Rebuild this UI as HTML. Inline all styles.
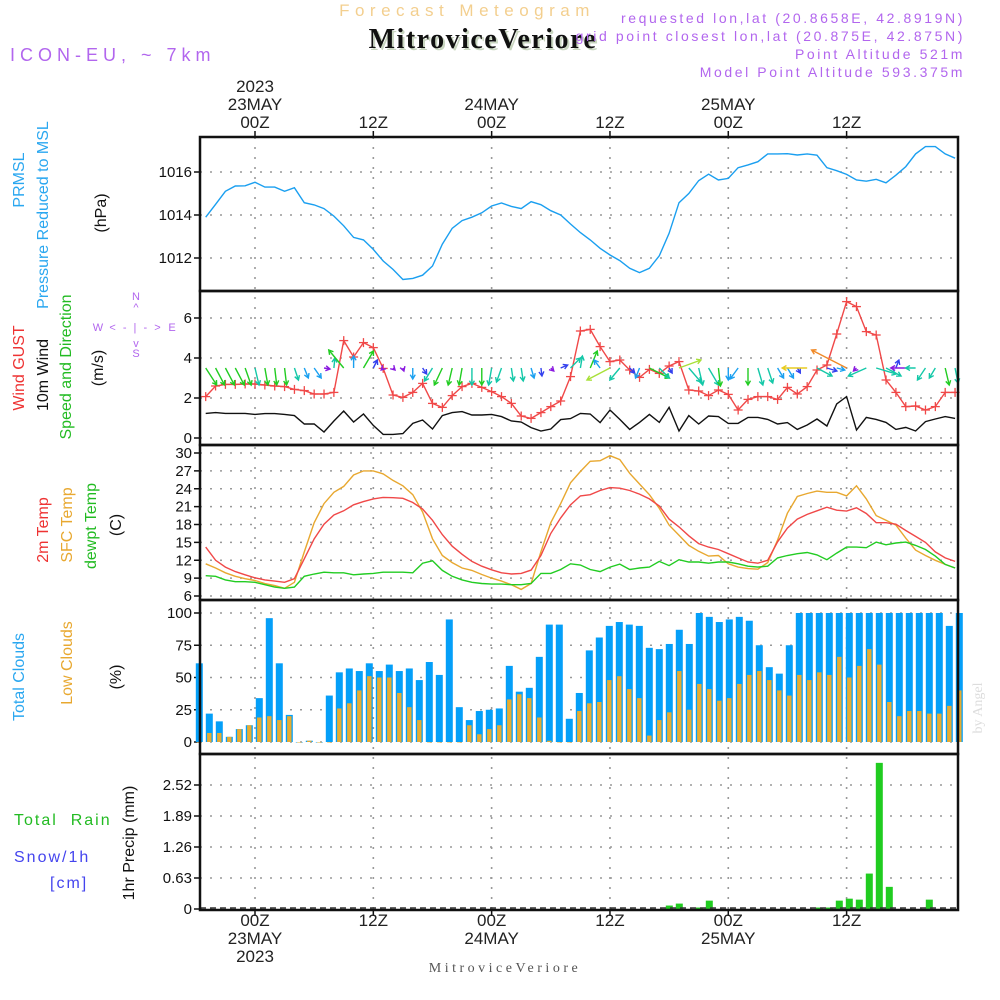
<!DOCTYPE html>
<html><head><meta charset="utf-8"><style>
html,body{margin:0;padding:0;background:#fff;}
svg{display:block;font-family:"Liberation Sans Narrow","Liberation Sans",sans-serif;}
</style></head><body>
<svg id="chart" width="1000" height="1000" viewBox="0 0 1000 1000" xmlns="http://www.w3.org/2000/svg">
<rect x="0" y="0" width="1000" height="1000" fill="#fff"/>
<text x="467" y="16" font-size="17" fill="#f3cf8f" text-anchor="middle" letter-spacing="5.5" font-family="Liberation Sans">Forecast Meteogram</text>
<text x="485" y="50" font-size="28" font-weight="bold" fill="#c9d6c0" text-anchor="middle" letter-spacing="1.5" font-family="Liberation Serif">MitroviceVeriore</text>
<text x="483" y="48" font-size="28" font-weight="bold" fill="#111" text-anchor="middle" letter-spacing="1.5" font-family="Liberation Serif">MitroviceVeriore</text>
<g fill="#b266ee" font-size="14" text-anchor="end" font-family="Liberation Sans" letter-spacing="2.6">
<text x="965" y="23">requested lon,lat (20.8658E, 42.8919N)</text>
<text x="965" y="41">grid point closest lon,lat (20.875E, 42.875N)</text>
<text x="965" y="59">Point Altitude 521m</text>
<text x="965" y="77">Model Point Altitude 593.375m</text>
</g>
<text x="10" y="61" font-size="18" fill="#b266ee" font-family="Liberation Sans" letter-spacing="5">ICON-EU, ~ 7km</text>

<g font-size="16" text-anchor="middle">
<text transform="translate(24,180) rotate(-90)" fill="#2aa7f0">PRMSL</text>
<text transform="translate(48,215) rotate(-90)" fill="#2aa7f0">Pressure Reduced to MSL</text>
<text transform="translate(106,213) rotate(-90)" fill="#111">(hPa)</text>
<text transform="translate(24,368) rotate(-90)" fill="#ee3333">Wind GUST</text>
<text transform="translate(48,375) rotate(-90)" fill="#111">10m Wind</text>
<text transform="translate(71,367) rotate(-90)" fill="#22bb22">Speed and Direction</text>
<text transform="translate(103,368) rotate(-90)" fill="#111">(m/s)</text>
<text transform="translate(48,530) rotate(-90)" fill="#ee3333">2m Temp</text>
<text transform="translate(72,525) rotate(-90)" fill="#e8a830">SFC Temp</text>
<text transform="translate(96,526) rotate(-90)" fill="#22bb22">dewpt Temp</text>
<text transform="translate(121,525) rotate(-90)" fill="#111">(C)</text>
<text transform="translate(24,677) rotate(-90)" fill="#2aa7f0">Total Clouds</text>
<text transform="translate(72,663) rotate(-90)" fill="#e8a830">Low Clouds</text>
<text transform="translate(121,677) rotate(-90)" fill="#111">(%)</text>
<text transform="translate(134,843) rotate(-90)" fill="#111">1hr Precip (mm)</text>
</g>
<g font-size="16" font-family="Liberation Sans" letter-spacing="2">
<text x="14" y="825" fill="#22bb22">Total&#160;&#160;Rain</text>
<text x="14" y="862" fill="#4444ee">Snow/1h</text>
<text x="50" y="888" fill="#4444ee">[cm]</text>
</g>
<g fill="#b266ee" font-size="11" text-anchor="middle" font-family="Liberation Sans">
<text x="136" y="300">N</text><text x="136" y="311">^</text>
<text x="98" y="331">W</text><text x="136" y="331" letter-spacing="2">&lt; - | - &gt;</text><text x="172" y="331">E</text>
<text x="136" y="347">v</text><text x="136" y="357">S</text>
</g>
<text transform="translate(982,708) rotate(-90)" font-size="14" fill="#ddd" text-anchor="middle" font-family="Liberation Serif">by Angel</text>
<text x="505" y="972" font-size="14" fill="#555" text-anchor="middle" font-family="Liberation Serif" letter-spacing="3.5">MitroviceVeriore</text>
<g id="plot"></g>
</svg>
<script>
const hours = []; for (let h = -5; h <= 71; h++) hours.push(h);
const pressure = [1013.9,1014.5,1015.1,1015.35,1015.36,1015.52,1015.3,1015.3,1015.1,1015.27,1014.57,1014.47,1014.3,1013.95,1013.5,1012.96,1012.84,1012.4,1011.86,1011.47,1011.0,1011.05,1011.2,1011.63,1012.64,1013.38,1013.74,1013.9,1014.1,1014.42,1014.56,1014.4,1014.3,1014.62,1014.48,1014.2,1014.0,1013.58,1013.18,1012.84,1012.45,1012.14,1011.88,1011.52,1011.32,1011.52,1012.1,1013.15,1014.57,1015.0,1015.6,1015.9,1015.63,1015.7,1016.2,1016.33,1016.48,1016.84,1016.84,1016.85,1016.79,1016.84,1016.78,1016.2,1016.06,1015.89,1015.63,1015.57,1015.66,1015.5,1015.85,1016.25,1016.84,1017.18,1017.18,1016.84,1016.64];
const gust = [2.07,2.6,2.68,2.68,2.7,2.7,2.65,2.6,2.57,2.43,2.37,2.2,2.2,2.28,4.87,4.05,4.77,4.52,3.48,2.15,2.03,2.28,2.73,1.73,1.53,2.12,2.57,2.73,2.53,2.32,2.07,1.73,1.1,0.98,1.27,1.57,1.85,3.07,5.35,5.43,4.57,3.82,3.9,3.4,3.03,3.43,3.23,3.6,3.82,2.4,2.35,2.12,2.4,2.18,1.4,1.93,2.07,2.07,1.93,2.53,2.2,2.57,3.4,3.65,5.2,6.82,6.57,5.32,5.15,2.9,2.28,1.57,1.6,1.4,1.57,2.28,2.28];
const wind10 = [1.23,1.27,1.23,1.23,1.23,1.18,1.22,1.22,1.18,1.12,0.7,0.7,0.3,0.85,1.35,0.8,1.2,0.63,0.18,0.18,0.22,0.73,0.9,0.45,1.12,1.27,1.32,1.15,1.15,1.18,1.07,0.85,0.8,0.52,0.35,0.45,0.92,0.97,1.23,1.2,0.77,1.4,0.93,0.43,0.78,1.18,0.78,1.53,0.35,1.12,0.7,1.1,1.07,0.73,0.73,1.03,1.03,0.93,0.7,0.77,0.43,0.65,0.95,0.6,1.7,2.07,0.4,1.03,0.93,0.78,0.43,0.53,0.35,0.82,0.95,1.07,0.98];
const windU = [11,9,9,9,6,4,3,2,2,4,4,7,6,1,-15,0,10,4,-2,2,1,0,4,-8,-8,-4,-3,0,0,-3,-5,2,2,3,1,3,7,10,2,7,-6,-23,-10,5,-4,20,10,3,22,12,4,10,2,0,-8,0,5,5,6,6,3,-25,15,10,8,-35,-3,-18,20,15,3,-15,-10,-8,-6,4,3];
const windV = [17,17,17,17,17,17,17,17,17,12,10,10,1,-10,-18,-12,-17,-8,2,2,3,11,6,13,17,17,17,17,17,17,14,13,13,10,8,3,-3,-10,-12,-17,-8,12,12,5,10,10,10,5,-8,14,17,17,18,12,11,17,17,15,10,10,5,0,8,3,2,-18,3,8,6,8,-8,0,0,12,10,17,15];
const windColorCode = "GGGGGTGGGTBBPTGBGDPPPBDTGGGTGTTTTBDPDTTGBLTDBGTDLTTTGBBGTTBBDYTDBOPTTTDPTTTGT";
const t2m = [14.2,12.0,10.85,10.1,9.55,9.05,8.7,8.5,8.3,8.9,12.25,15.6,18.05,19.6,20.3,21.3,21.85,22.3,22.55,22.5,22.4,21.7,20.6,18.7,16.3,14.35,13.0,11.8,11.0,10.4,9.9,9.7,9.8,10.35,12.8,16.5,19.1,21.3,22.8,23.0,23.7,24.2,24.1,23.7,23.1,22.3,21.1,18.9,17.6,16.1,14.8,14.2,13.8,13.1,12.4,11.7,11.5,12.0,15.1,17.4,18.9,19.7,20.3,20.9,20.4,20.25,20.8,19.85,18.3,18.3,18.05,17.0,16.0,15.0,13.4,12.4,11.8];
const tsfc = [11.4,10.7,9.9,9.3,8.9,8.6,8.1,7.75,7.3,8.3,13.4,18.3,21.5,23.4,24.4,26.3,27.0,27.0,26.5,25.4,24.5,23.0,20.1,15.6,12.8,11.6,10.7,10.3,9.6,9.0,8.5,7.9,7.1,8.1,13.4,18.3,21.5,25.0,26.9,28.6,28.7,29.55,28.9,26.6,24.8,23.0,20.7,17.9,16.2,14.5,13.5,12.7,12.8,11.4,10.85,10.6,10.5,11.6,15.4,19.9,22.7,23.2,23.6,23.4,23.4,22.8,24.5,22.3,19.5,18.7,17.9,15.7,13.7,12.8,12.0,11.3,10.7];
const tdew = [9.4,9.3,8.7,8.4,8.4,8.3,7.9,7.5,7.3,7.5,9.3,9.7,10.0,9.9,9.9,9.55,9.7,9.8,10.0,10.0,10.0,9.9,11.5,11.9,10.3,9.3,8.7,8.3,8.1,8.0,8.0,7.9,7.9,8.1,9.8,9.8,10.45,11.4,11.2,10.45,10.1,10.85,11.35,10.45,10.7,10.85,11.8,11.1,12.1,11.7,11.7,11.5,11.7,11.7,11.4,11.0,10.85,11.0,12.4,12.8,13.1,13.3,12.9,12.1,13.2,14.2,14.2,14.1,15.05,14.6,14.9,15.05,14.5,13.8,12.7,11.3,10.7];
const totalClouds = [61,22,16,4,10,13,34,96,61,21,0,1,0,36,54,57,55,61,55,60,55,57,48,62,52,95,27,17,24,25,26,59,39,42,66,91,91,18,38,71,81,90,93,91,90,73,72,76,87,76,100,97,93,95,97,94,75,58,53,75,100,100,100,100,100,100,100,100,100,100,100,100,100,100,100,90,100];
const lowClouds = [0,7,7,4,10,13,19,20,17,20,0,1,0,0,26,30,40,51,50,50,38,27,17,0,0,0,0,13,6,10,13,33,37,34,19,1,0,0,24,30,31,48,51,41,34,5,17,23,55,25,45,41,32,34,45,52,55,48,40,36,52,48,54,52,66,50,59,72,60,31,20,24,24,22,22,28,40];
const precip = [0,0,0,0,0,0,0,0,0,0,0,0,0,0,0,0,0,0,0,0,0,0,0,0,0,0,0,0,0,0,0,0,0,0,0,0,0,0,0,0,0,0,0,0,0,0,0,0.07,0.11,0,0.03,0.17,0,0,0,0,0,0,0,0,0,0,0.03,0.03,0.17,0.21,0.19,0.72,2.97,0.45,0,0,0,0.19,0,0,0];
const pressTicks = [1012,1014,1016];
const windTicks = [0,2,4,6];
const tempTicks = [6,9,12,15,18,21,24,27,30];
const cloudTicks = [0,25,50,75,100];
const precipTicks = [0,0.63,1.26,1.89,2.52];
const timeTicks = [0,12,24,36,48,60];
const timeTopLabels = [["2023","23MAY","00Z"],["","","12Z"],["","24MAY","00Z"],["","","12Z"],["","25MAY","00Z"],["","","12Z"]];
const timeBottomLabels = [["00Z","23MAY","2023"],["12Z","",""],["00Z","24MAY",""],["12Z","",""],["00Z","25MAY",""],["12Z","",""]];

const NS = "http://www.w3.org/2000/svg";
const plot = document.getElementById('plot');
const L = 200, R = 958;
const xH = h => 255 + 9.86 * h;
const xBar = k => 199.3 + 10 * k;
const lin = (v0, y0, v1, y1) => v => y0 + (v - v0) * (y1 - y0) / (v1 - v0);
const yP = lin(1016, 172, 1012, 258);
const yW = lin(0, 438, 6, 318);
const yT = lin(6, 596, 30, 453);
const yC = lin(0, 742, 100, 613);
const yR = lin(0, 909, 2.52, 785);
const panels = [[137,291],[291,445],[445,600],[600,754],[754,910]];

function mk(tag, attrs, parent) {
  const e = document.createElementNS(NS, tag);
  for (const k in attrs) e.setAttribute(k, attrs[k]);
  (parent || plot).appendChild(e);
  return e;
}
const grid = mk('g', {stroke:'#999','stroke-width':1.6,'stroke-dasharray':'2,8',fill:'none'});


function hgrid(ticks, sc) { ticks.forEach(t => { const y = sc(t); mk('line',{x1:L,x2:R,y1:y,y2:y},grid); }); }
hgrid(pressTicks, yP); hgrid(windTicks, yW); hgrid(tempTicks, yT); hgrid(cloudTicks, yC); hgrid(precipTicks, yR);
timeTicks.forEach(h => { mk('line',{x1:xH(h),x2:xH(h),y1:137,y2:910},grid); });

const tl = mk('g', {'font-size':15,'text-anchor':'end',fill:'#111','font-family':'Liberation Sans'});


const tm = mk('g', {stroke:'#111','stroke-width':1.5});


function ylabels(ticks, sc, fmt) {
  ticks.forEach(t => { const y = sc(t);
    const e = mk('text',{x:192,y:y+5},tl); e.textContent = fmt(t);
    mk('line',{x1:194,x2:200,y1:y,y2:y},tm); });
}
ylabels(pressTicks, yP, String); ylabels(windTicks, yW, String); ylabels(tempTicks, yT, String);
ylabels(cloudTicks, yC, String); ylabels(precipTicks, yR, t => t===0?'0':t.toFixed(2));
timeTicks.forEach(h => { const x = xH(h);
  mk('line',{x1:x,x2:x,y1:131,y2:137},tm); mk('line',{x1:x,x2:x,y1:910,y2:916},tm); });
const xl = mk('g', {'font-size':17,'text-anchor':'middle',fill:'#222'});


timeTicks.forEach((h,i) => { const x = xH(h);
  timeTopLabels[i].forEach((s,j) => { if (s) { const e = mk('text',{x:x,y:92+j*18},xl); e.textContent = s; } });
  timeBottomLabels[i].forEach((s,j) => { if (s) { const e = mk('text',{x:x,y:926+j*18},xl); e.textContent = s; } });
});

function line(vals, sc, color, name, w) {
  const d = vals.map((v,i) => (i?'L':'M') + xH(hours[i]).toFixed(1) + ',' + sc(v).toFixed(1)).join('');
  const p = mk('path', {d:d, fill:'none', stroke:color, 'stroke-width':w||1.4});
  
  
  return p;
}
line(pressure, yP, '#1a9ff0', 'pressure-line');
line(wind10, yW, '#111', 'wind-10m-line');
line(gust, yW, '#f04848', 'wind-gust-line');
const gm = mk('g', {stroke:'#f04848','stroke-width':1.3});


gust.forEach((v,i) => { const x = xH(hours[i]), y = yW(v);
  mk('line',{x1:x-4.5,x2:x+4.5,y1:y,y2:y},gm); mk('line',{x1:x,x2:x,y1:y-4.5,y2:y+4.5},gm); });

const colorMap = {G:'#22cc22',T:'#14c8a8',B:'#1aa0f0',D:'#3340ee',P:'#8a1ae0',L:'#a8e038',Y:'#e8cc20',O:'#f08a28'};
const wa = mk('g', {'stroke-width':1.4, fill:'none'});


windU.forEach((u,i) => {
  const v = windV[i], x0 = xH(hours[i]), y0 = 368, x1 = x0 + u, y1 = y0 + v;
  const c = colorMap[windColorCode[i]] || '#22cc22';
  const len = Math.hypot(u,v) || 1, ux = u/len, uy = v/len, hl = 5;
  const a = Math.PI/6;
  const hx1 = x1 - hl*(ux*Math.cos(a) - uy*Math.sin(a)), hy1 = y1 - hl*(uy*Math.cos(a) + ux*Math.sin(a));
  const hx2 = x1 - hl*(ux*Math.cos(a) + uy*Math.sin(a)), hy2 = y1 - hl*(uy*Math.cos(a) - ux*Math.sin(a));
  const p = mk('path',{d:`M${x0},${y0}L${x1},${y1}M${hx1},${hy1}L${x1},${y1}L${hx2},${hy2}`,stroke:c},wa);
  
  
});

line(tsfc, yT, '#e8a830', 'sfc-temp-line');
line(t2m, yT, '#f04848', '2m-temp-line');
line(tdew, yT, '#22cc22', 'dewpoint-line');

const cg = mk('g', {});


totalClouds.forEach((v,k) => { const x = xBar(k), y = yC(v);
  const r = mk('rect',{x:x-3.5,y:y,width:7,height:Math.max(0.5,yC(0)-y),fill:'#049ff8'},cg);
  
  
});
lowClouds.forEach((v,k) => { const x = xBar(k), y = yC(v);
  const r = mk('rect',{x:x-2.2,y:y,width:4.4,height:Math.max(0.5,yC(0)-y),fill:'#e8ac30'},cg);
  
  
});
const pg = mk('g', {});


precip.forEach((v,k) => { if (v <= 0) return; const x = xBar(k), y = yR(v);
  const r = mk('rect',{x:x-3.5,y:y,width:7,height:yR(0)-y,fill:'#20cc20'},pg);
  
  
});
const bl = mk('line',{x1:L,x2:R,y1:908,y2:908,stroke:'#333','stroke-width':1.5,'stroke-dasharray':'6,4'});



panels.forEach(p => {
  const r = mk('rect',{x:L,y:p[0],width:R-L,height:p[1]-p[0],fill:'none',stroke:'#111','stroke-width':2.5});
  
  
});
</script>
</body></html>
